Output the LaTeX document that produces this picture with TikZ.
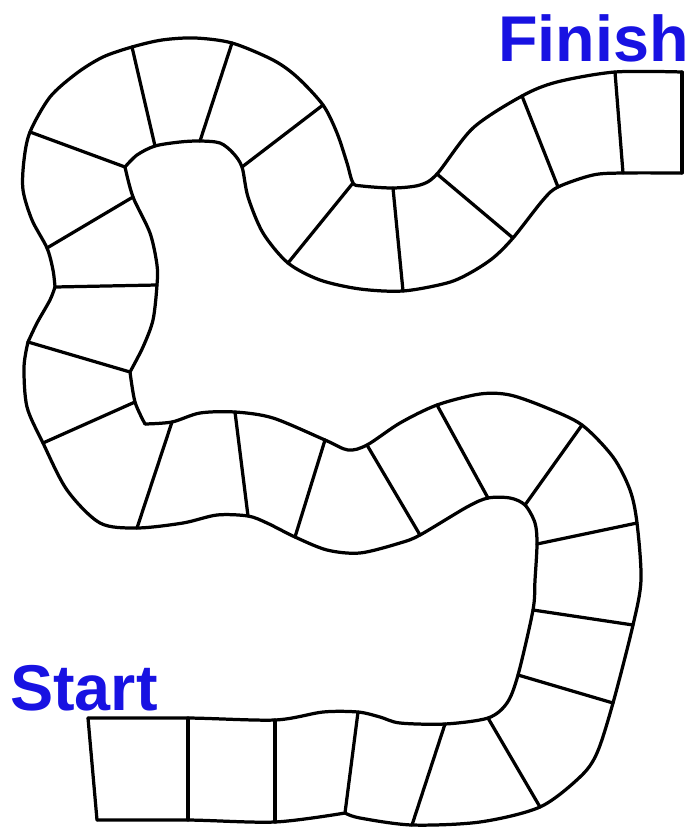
\documentclass[tikz,border=0pt]{standalone}
\usepackage{fontspec}
\newfontfamily\labelfont{Liberation Sans}
\definecolor{labelblue}{RGB}{24,18,226}
\tikzset{
  edge/.style={line width=2.3pt},
  board label/.style={inner sep=0pt,text=labelblue,font=\labelfont\bfseries\fontsize{46}{46}\selectfont}
}
\begin{document}
\begin{tikzpicture}[line cap=round,line join=round,x=0.025cm,y=-0.025cm]
	\useasboundingbox (0,0) rectangle (689,827);
	% ends of the dividers, p on one side of the track, q on the other
	\foreach \i/\px/\py/\qx/\qy in {0/88/718/97/820, 1/188/718/188/820, 2/275/720/275/822,
		3/358/712/345/813, 4/445/724/412/825, 5/488/718/540/807, 6/518/675/613/703,
		7/533/610/633/625, 8/537/544/637/523, 9/525/505/582/425, 10/488/498/437/405,
		11/420/535/367/445, 12/295/537/325/440, 13/248/516/235/412, 14/137/528/172/422,
		15/43/443/135/402, 16/28/342/130/372, 17/55/287/157/285, 18/47/248/133/197,
		19/30/132/125/167, 20/132/47/155/146, 21/232/43/200/141, 22/323/105/242/167,
		23/353/183/288/263, 24/393/188/403/291, 25/437/174/513/238, 26/522/96/558/187,
		27/615/72/623/173, 28/682/72/682/173}
	{
		\coordinate (p\i) at (\px,\py);
		\coordinate (q\i) at (\qx,\qy);
	}
	% one side of the track
	\draw[edge] plot[smooth] coordinates {(p0) (p1) (p2) (323,712) (p3) (380,717) (400,723) (p4) (p5)
		(507,703) (p6) (p7) (535,580) (p8) (535,523) (p9) (510,498) (p10) (467,507) (p11) (400,543)
		(360,553) (327,550) (p12) (267,523) (p13) (217,515) (183,523) (p14) (100,523) (67,490) (p15)
		(27,407) (24,367) (p16)};
	\draw[edge] plot[smooth] coordinates {(p16) (37,323) (50,300) (p17)};
	\draw[edge] plot[smooth] coordinates {(p17) (53,270) (p18) (32,220) (23,190) (24,160) (p19) (50,97)
		(77,73) (103,57) (p20) (162,40) (195,38) (p21) (273,60) (297,77) (p22) (337,133) (347,163)
		(p23) (362,186) (p24) (420,185) (p25) (473,128) (p26) (557,82) (p27) (p28)};
	% other side of the track
	\draw[edge] plot[smooth] coordinates {(q0) (q1) (q2) (q3)};
	\draw[edge] plot[smooth] coordinates {(q3) (360,818) (q4) (480,822) (q5) (580,777) (597,753) (q6)
		(q7) (641,580) (q8) (630,490) (613,457) (q9) (547,408) (510,395) (480,394) (q10) (400,423)
		(q11) (348,450) (q12) (273,418) (q13) (200,413) (q14) (145,424)};
	\draw[edge] plot[smooth] coordinates {(145,424) (q15) (q16)};
	\draw[edge] plot[smooth] coordinates {(q16) (143,347) (153,320) (q17) (157,265) (150,233) (q18) (q19)};
	\draw[edge] plot[smooth] coordinates {(q19) (137,155) (q20) (180,142) (q21) (220,143) (233,153) (q22)
		(248,197) (263,233) (q23) (320,280) (360,289) (q24) (447,283) (470,273) (493,258) (q25)
		(543,200) (q26) (593,175) (q27) (q28)};
	% dividers and the two ends
	\foreach \i in {0,...,28}
		\draw[edge] (p\i) -- (q\i);
	\node[board label,anchor=base west] (start) at (10,710) {Start};
	\node[board label,anchor=base east] (finish) at (689,62) {Finish};
\end{tikzpicture}
\end{document}
